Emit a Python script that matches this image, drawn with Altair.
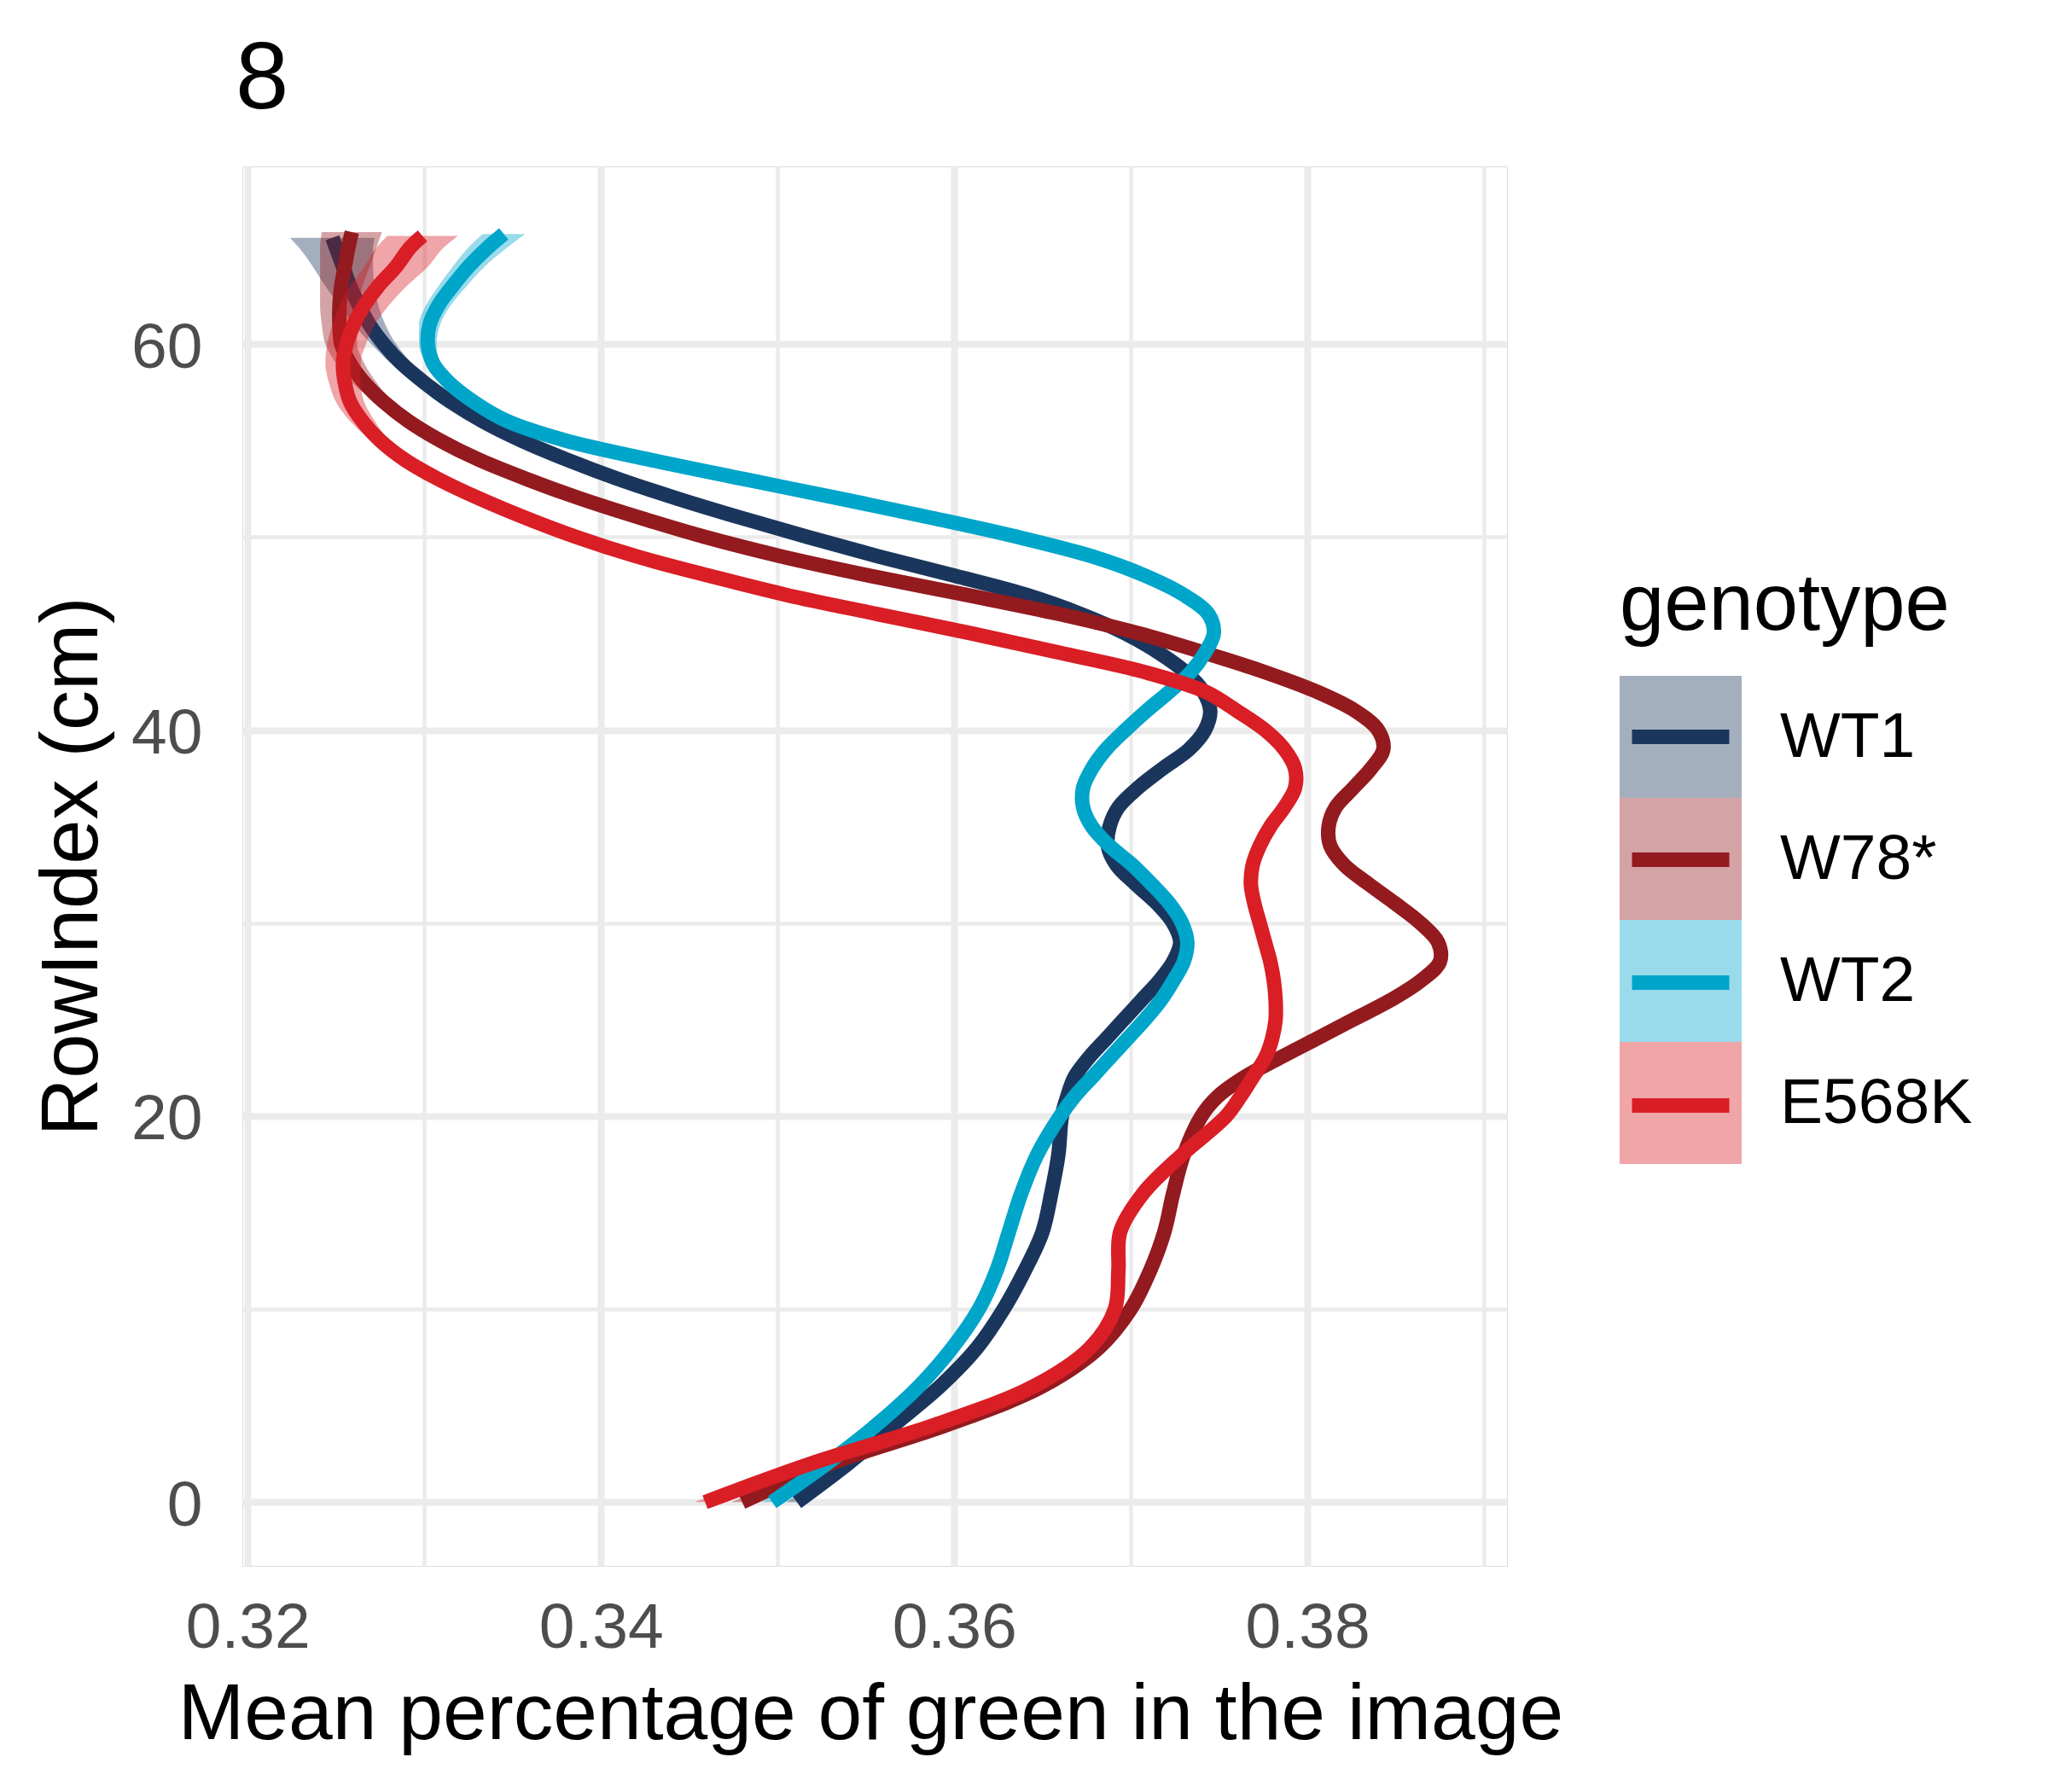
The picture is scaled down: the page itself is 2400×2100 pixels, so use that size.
import altair as alt
import pandas as pd

genotypes = ["WT1", "W78*", "WT2", "E568K"]
colors = ["#1B365D", "#931A1E", "#00A5CA", "#D91E26"]

row_knots = [0, 2, 4, 6, 8, 10, 12, 14, 16, 18, 20,
             21, 22, 23, 24, 25, 26, 27, 28, 29, 30,
             31, 32, 33, 34, 35, 36, 37, 38, 39, 40,
             41, 42, 43, 44, 45, 46, 47, 48, 49, 50,
             51, 52, 53, 54, 55, 56, 57, 58, 59, 60,
             61, 62, 63, 64, 65]
top_row = {"WT1": 65.5, "W78*": 65.8, "WT2": 65.7, "E568K": 65.6}

wt1_fit = [0.3511, 0.3540, 0.3566, 0.3592, 0.3613, 0.3628, 0.3640, 0.3650, 0.3655, 0.3659, 0.3661,
           0.3664, 0.3668, 0.3676, 0.3686, 0.3696, 0.3706, 0.3716, 0.3724, 0.3728, 0.3724,
           0.3715, 0.3703, 0.3692, 0.3687, 0.3688, 0.3693, 0.3704, 0.3718, 0.3733, 0.3742,
           0.3745, 0.3741, 0.3731, 0.3716, 0.3697, 0.3672, 0.3641, 0.3600, 0.3557, 0.3517,
           0.3479, 0.3443, 0.3410, 0.3381, 0.3355, 0.3333, 0.3315, 0.3300, 0.3287, 0.3277,
           0.3269, 0.3263, 0.3258, 0.3254, 0.3250,
           0.3248]
wt1_se = [0.0006, 0.0004, 0.0003, 0.0002, 0.0002, 0.0002, 0.0002, 0.0002, 0.0002, 0.0002, 0.0002,
          0.0002, 0.0002, 0.0002, 0.0002, 0.0002, 0.0002, 0.0002, 0.0002, 0.0002, 0.0002,
          0.0002, 0.0002, 0.0002, 0.0002, 0.0002, 0.0002, 0.0002, 0.0002, 0.0002, 0.0002,
          0.0002, 0.0002, 0.0002, 0.0002, 0.0002, 0.0002, 0.0002, 0.0002, 0.0002, 0.0002,
          0.0002, 0.0002, 0.0002, 0.0002, 0.0002, 0.0003, 0.0004, 0.0005, 0.0006, 0.0007,
          0.0009, 0.0011, 0.0014, 0.0017, 0.0021,
          0.0024]

w78_fit = [0.3480, 0.3530, 0.3596, 0.3650, 0.3682, 0.3700, 0.3711, 0.3719, 0.3724, 0.3730, 0.3740,
           0.3749, 0.3764, 0.3784, 0.3805, 0.3826, 0.3847, 0.3864, 0.3875, 0.3874, 0.3864,
           0.3850, 0.3835, 0.3821, 0.3813, 0.3812, 0.3816, 0.3826, 0.3836, 0.3843, 0.3840,
           0.3827, 0.3805, 0.3776, 0.3742, 0.3705, 0.3660, 0.3607, 0.3552, 0.3502, 0.3459,
           0.3422, 0.3388, 0.3358, 0.3331, 0.3309, 0.3291, 0.3277, 0.3266, 0.3258, 0.3253,
           0.3252, 0.3252, 0.3253, 0.3255, 0.3257,
           0.3259]
w78_se = [0.0006, 0.0004, 0.0003, 0.0002, 0.0002, 0.0002, 0.0002, 0.0002, 0.0002, 0.0002, 0.0002,
          0.0002, 0.0002, 0.0002, 0.0002, 0.0002, 0.0002, 0.0002, 0.0002, 0.0002, 0.0002,
          0.0002, 0.0002, 0.0002, 0.0002, 0.0002, 0.0002, 0.0002, 0.0002, 0.0002, 0.0002,
          0.0002, 0.0002, 0.0002, 0.0002, 0.0002, 0.0002, 0.0002, 0.0002, 0.0002, 0.0002,
          0.0002, 0.0002, 0.0002, 0.0002, 0.0003, 0.0004, 0.0005, 0.0007, 0.0008, 0.0009,
          0.0010, 0.0011, 0.0012, 0.0014, 0.0016,
          0.0017]

wt2_fit = [0.3497, 0.3528, 0.3556, 0.3580, 0.3599, 0.3614, 0.3624, 0.3631, 0.3638, 0.3647, 0.3660,
           0.3668, 0.3678, 0.3688, 0.3698, 0.3708, 0.3717, 0.3724, 0.3730, 0.3732, 0.3729,
           0.3722, 0.3712, 0.3701, 0.3688, 0.3678, 0.3673, 0.3673, 0.3678, 0.3686, 0.3697,
           0.3709, 0.3722, 0.3734, 0.3742, 0.3747, 0.3744, 0.3730, 0.3708, 0.3678, 0.3636,
           0.3587, 0.3535, 0.3481, 0.3428, 0.3380, 0.3347, 0.3328, 0.3314, 0.3305, 0.3302,
           0.3303, 0.3308, 0.3316, 0.3325, 0.3336,
           0.3345]
wt2_se = [0.0006, 0.0004, 0.0003, 0.0002, 0.0002, 0.0002, 0.0002, 0.0002, 0.0002, 0.0002, 0.0002,
          0.0002, 0.0002, 0.0002, 0.0002, 0.0002, 0.0002, 0.0002, 0.0002, 0.0002, 0.0002,
          0.0002, 0.0002, 0.0002, 0.0002, 0.0002, 0.0002, 0.0002, 0.0002, 0.0002, 0.0002,
          0.0002, 0.0002, 0.0002, 0.0002, 0.0002, 0.0002, 0.0002, 0.0002, 0.0002, 0.0002,
          0.0002, 0.0002, 0.0002, 0.0002, 0.0002, 0.0002, 0.0003, 0.0003, 0.0004, 0.0005,
          0.0006, 0.0007, 0.0008, 0.0009, 0.0011,
          0.0012]

e568k_fit = [0.3459, 0.3519, 0.3589, 0.3645, 0.3677, 0.3691, 0.3693, 0.3694, 0.3707, 0.3729, 0.3754,
             0.3762, 0.3769, 0.3776, 0.3780, 0.3782, 0.3782, 0.3781, 0.3779, 0.3776, 0.3773,
             0.3770, 0.3768, 0.3769, 0.3773, 0.3779, 0.3787, 0.3793, 0.3793, 0.3787, 0.3776,
             0.3760, 0.3742, 0.3708, 0.3660, 0.3610, 0.3557, 0.3505, 0.3461, 0.3420, 0.3386,
             0.3357, 0.3331, 0.3308, 0.3289, 0.3275, 0.3265, 0.3258, 0.3255, 0.3254, 0.3256,
             0.3260, 0.3266, 0.3274, 0.3284, 0.3292,
             0.3299]
e568k_se = [0.0006, 0.0004, 0.0003, 0.0002, 0.0002, 0.0002, 0.0002, 0.0002, 0.0002, 0.0002, 0.0002,
            0.0002, 0.0002, 0.0002, 0.0002, 0.0002, 0.0002, 0.0002, 0.0002, 0.0002, 0.0002,
            0.0002, 0.0002, 0.0002, 0.0002, 0.0002, 0.0002, 0.0002, 0.0002, 0.0002, 0.0002,
            0.0002, 0.0002, 0.0002, 0.0002, 0.0002, 0.0002, 0.0002, 0.0002, 0.0002, 0.0002,
            0.0002, 0.0002, 0.0002, 0.0003, 0.0005, 0.0007, 0.0008, 0.0009, 0.0010, 0.0011,
            0.0012, 0.0014, 0.0016, 0.0018, 0.0019,
            0.0020]

x_ticks = [0.32, 0.33, 0.34, 0.35, 0.36, 0.37, 0.38, 0.39]
y_ticks = [0, 10, 20, 30, 40, 50, 60]

fits = {"WT1": wt1_fit, "W78*": w78_fit, "WT2": wt2_fit, "E568K": e568k_fit}
ses = {"WT1": wt1_se, "W78*": w78_se, "WT2": wt2_se, "E568K": e568k_se}

# line legend keys get their own domain so Vega-Lite keeps the two legends apart
line_keys = [g + " line" for g in genotypes]

rows = []
for g, lk in zip(genotypes, line_keys):
    ys = row_knots + [top_row[g]]
    for y, x, h in zip(ys, fits[g], ses[g]):
        rows.append({"genotype": g, "line_genotype": lk, "RowIndex": y,
                     "fit": x, "lo": x - h, "hi": x + h})
df = pd.DataFrame(rows)

FONT = "Liberation Sans"
x_title = "Mean percentage of green in the image"

x_scale = alt.Scale(domain=[0.3197, 0.3913], nice=False, zero=False)
y_scale = alt.Scale(domain=[-3.3, 69.2], nice=False, zero=False)

x_axis = alt.Axis(values=x_ticks, domain=False, ticks=False, tickSize=0,
                  labelExpr="round(datum.value*100) % 2 === 0 ? datum.label : ''",
                  labelFont=FONT, labelFontSize=75, labelColor="#4D4D4D",
                  labelPadding=36, labelFlush=False, labelOverlap=False,
                  gridColor="#EBEBEB",
                  gridWidth={"condition": {"test": "round(datum.value*100) % 2 === 0", "value": 8},
                             "value": 4.5},
                  titleFont=FONT, titleFontSize=93, titleFontWeight="normal", titleColor="black",
                  titleX=736, titleY=202, titleBaseline="alphabetic", titleAlign="center")
y_axis = alt.Axis(values=y_ticks, domain=False, ticks=False, tickSize=0,
                  labelExpr="datum.value % 20 === 0 ? datum.label : ''",
                  labelFont=FONT, labelFontSize=75, labelColor="#4D4D4D",
                  labelPadding=47, labelOffset=4, labelFlush=False, labelOverlap=False,
                  gridColor="#EBEBEB",
                  gridWidth={"condition": {"test": "datum.value % 20 === 0", "value": 8},
                             "value": 4.5},
                  titleFont=FONT, titleFontSize=94, titleFontWeight="normal", titleColor="black",
                  titleX=-171, titleY=820, titleBaseline="alphabetic", titleAlign="center",
                  titleAngle=270)

fill_scale = alt.Scale(domain=genotypes, range=colors)
stroke_scale = alt.Scale(domain=line_keys, range=colors)

LEG_X = 1614
LEG_Y = 469
fill_legend = alt.Legend(title="genotype", orient="none", legendX=LEG_X, legendY=LEG_Y,
                         symbolType="square", symbolSize=20449, symbolStrokeWidth=0,
                         symbolOpacity=0.4, padding=0, rowPadding=0,
                         labelFont=FONT, labelFontSize=75, labelColor="black", labelOffset=45,
                         labelLimit=0, titleLimit=0,
                         titleFont=FONT, titleFontSize=94, titleFontWeight="normal",
                         titleColor="black", titlePadding=34)
# second legend only draws the line inside each key; its blank labels keep rows 143 px tall
stroke_legend = alt.Legend(title=" ", orient="none", legendX=LEG_X, legendY=LEG_Y,
                           symbolType="M-1,0H1", symbolSize=12996, symbolStrokeWidth=17,
                           symbolFillColor="transparent", symbolOpacity=1,
                           padding=0, rowPadding=0,
                           labelExpr="' '", labelAlign="right",
                           labelFont=FONT, labelFontSize=143, labelColor="transparent",
                           labelOffset=0, titleLimit=0,
                           titleFont=FONT, titleFontSize=94, titleFontWeight="normal",
                           titleColor="transparent", titlePadding=34)

base = alt.Chart()
layers = []
for g in genotypes:
    sub = base.transform_filter(alt.datum.genotype == g)
    band = sub.mark_area(orient="horizontal", opacity=0.4, interpolate="monotone").encode(
        y=alt.Y("RowIndex:Q", scale=y_scale, axis=y_axis, title="RowIndex (cm)"),
        x=alt.X("lo:Q", scale=x_scale, axis=x_axis, title=x_title),
        x2="hi:Q",
        fill=alt.Fill("genotype:N", scale=fill_scale, legend=fill_legend),
    )
    line = sub.mark_line(strokeWidth=17, interpolate="catmull-rom", strokeCap="butt",
                         strokeJoin="round").encode(
        y=alt.Y("RowIndex:Q", scale=y_scale, axis=y_axis, title="RowIndex (cm)"),
        x=alt.X("fit:Q", scale=x_scale, axis=x_axis, title=x_title),
        order=alt.Order("RowIndex:Q"),
        stroke=alt.Stroke("line_genotype:N", scale=stroke_scale, legend=stroke_legend),
    )
    layers += [band, line]

chart = alt.layer(*layers, data=df).properties(
    width=1482, height=1640,
    padding={"left": 276, "top": 187, "right": 626, "bottom": 257},
    autosize=alt.AutoSizeParams(type="none"),
    background="white",
    title=alt.TitleParams("8", anchor="start", frame="group", fontSize=112, font=FONT,
                          fontWeight="normal", color="black", baseline="top",
                          offset=44, dx=-8),
).configure_view(strokeWidth=0).configure(font=FONT)

chart.save("out.html", embed_options={"renderer": "svg", "actions": False})
